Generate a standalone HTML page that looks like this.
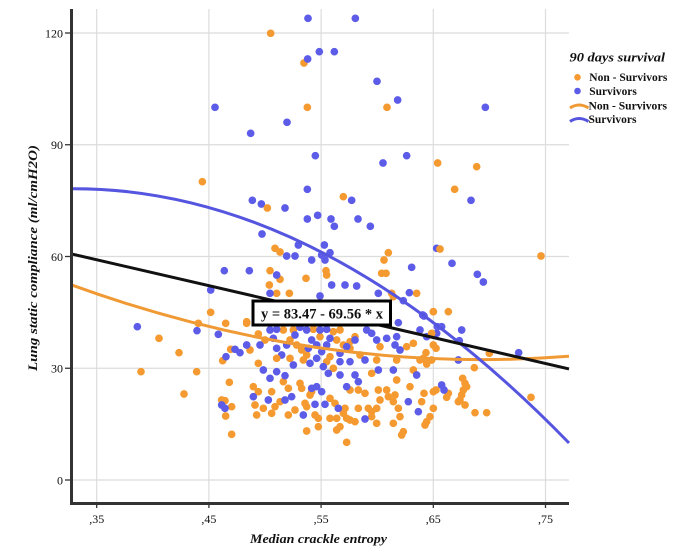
<!DOCTYPE html>
<html>
<head>
<meta charset="utf-8">
<style>
html,body{margin:0;padding:0;background:#fff;}
svg{display:block;}
.o{fill:#F59A30;}
.b{fill:#5C5CE8;}
text{font-family:"Liberation Serif",serif;fill:#111;}
</style>
</head>
<body>
<svg width="689" height="555" viewBox="0 0 689 555" xmlns="http://www.w3.org/2000/svg">
<rect width="689" height="555" fill="#fff"/>
<!-- grid -->
<g stroke="#dcdcdc" stroke-width="1.2">
<line x1="96.7" y1="9" x2="96.7" y2="503"/>
<line x1="208.9" y1="9" x2="208.9" y2="503"/>
<line x1="321.1" y1="9" x2="321.1" y2="503"/>
<line x1="433.3" y1="9" x2="433.3" y2="503"/>
<line x1="545.5" y1="9" x2="545.5" y2="503"/>
<line x1="72" y1="33" x2="569" y2="33"/>
<line x1="72" y1="144.75" x2="569" y2="144.75"/>
<line x1="72" y1="256.5" x2="569" y2="256.5"/>
<line x1="72" y1="368.25" x2="569" y2="368.25"/>
<line x1="72" y1="480" x2="569" y2="480"/>
</g>

<!-- zoom 8 region (top) -->
<g transform="translate(180,9) scale(0.33333)">
<g class="o">
<circle cx="272" cy="73" r="11.5"/><circle cx="372" cy="162" r="11.5"/><circle cx="382" cy="295" r="11.5"/><circle cx="621" cy="295" r="11.5"/><circle cx="773" cy="462" r="11.5"/><circle cx="890" cy="473" r="11.5"/><circle cx="67" cy="518" r="11.5"/><circle cx="824" cy="541" r="11.5"/><circle cx="490" cy="563" r="11.5"/>
</g>
<g class="b">
<circle cx="384" cy="28" r="11.5"/><circle cx="526" cy="28" r="11.5"/><circle cx="418" cy="128" r="11.5"/><circle cx="463" cy="128" r="11.5"/><circle cx="383" cy="150" r="11.5"/><circle cx="591" cy="217" r="11.5"/><circle cx="653" cy="273" r="11.5"/><circle cx="105" cy="295" r="11.5"/><circle cx="916" cy="295" r="11.5"/><circle cx="321" cy="340" r="11.5"/><circle cx="212" cy="373" r="11.5"/><circle cx="406" cy="440" r="11.5"/><circle cx="609" cy="462" r="11.5"/><circle cx="680" cy="440" r="11.5"/><circle cx="382" cy="541" r="11.5"/><circle cx="217" cy="574" r="11.5"/><circle cx="244" cy="585" r="11.5"/><circle cx="315" cy="597" r="11.5"/><circle cx="515" cy="574" r="11.5"/><circle cx="873" cy="574" r="11.5"/><circle cx="382" cy="630" r="11.5"/><circle cx="413" cy="619" r="11.5"/><circle cx="453" cy="630" r="11.5"/><circle cx="463" cy="652" r="11.5"/><circle cx="534" cy="630" r="11.5"/><circle cx="571" cy="652" r="11.5"/><circle cx="246" cy="675" r="11.5"/>
</g>
<circle class="o" cx="262" cy="597" r="11.5"/>
</g>

<!-- left middle -->
<g class="b">
<circle cx="224.3" cy="270.7" r="3.83"/><circle cx="210.7" cy="290" r="3.83"/>
</g>

<!-- zoom 9 region -->
<g transform="translate(240,230) scale(0.33333)">
<g class="o">
<circle cx="105" cy="55" r="11.5"/><circle cx="120" cy="66" r="11.5"/><circle cx="445" cy="68" r="11.5"/><circle cx="432" cy="90" r="11.5"/>
<circle cx="90" cy="122" r="11.5"/><circle cx="120" cy="148" r="11.5"/><circle cx="198" cy="145" r="11.5"/><circle cx="258" cy="122" r="11.5"/><circle cx="260" cy="135" r="11.5"/><circle cx="425" cy="130" r="11.5"/><circle cx="438" cy="130" r="11.5"/><circle cx="88" cy="165" r="11.5"/>
<circle cx="110" cy="190" r="11.5"/><circle cx="148" cy="190" r="11.5"/><circle cx="455" cy="190" r="11.5"/><circle cx="460" cy="200" r="11.5"/><circle cx="530" cy="190" r="11.5"/><circle cx="580" cy="245" r="11.5"/><circle cx="20" cy="275" r="11.5"/>
<circle cx="55" cy="312" r="11.5"/><circle cx="130" cy="300" r="11.5"/><circle cx="160" cy="300" r="11.5"/><circle cx="150" cy="330" r="11.5"/><circle cx="170" cy="345" r="11.5"/><circle cx="185" cy="360" r="11.5"/><circle cx="200" cy="375" r="11.5"/><circle cx="220" cy="298" r="11.5"/><circle cx="240" cy="320" r="11.5"/><circle cx="280" cy="305" r="11.5"/><circle cx="300" cy="300" r="11.5"/><circle cx="290" cy="330" r="11.5"/><circle cx="310" cy="345" r="11.5"/><circle cx="330" cy="355" r="11.5"/><circle cx="345" cy="320" r="11.5"/><circle cx="330" cy="335" r="11.5"/><circle cx="420" cy="350" r="11.5"/><circle cx="500" cy="350" r="11.5"/><circle cx="520" cy="340" r="11.5"/><circle cx="75" cy="330" r="11.5"/><circle cx="30" cy="360" r="11.5"/><circle cx="270" cy="380" r="11.5"/><circle cx="360" cy="375" r="11.5"/><circle cx="150" cy="385" r="11.5"/>
</g>
<g class="b">
<circle cx="175" cy="45" r="11.5"/><circle cx="253" cy="45" r="11.5"/><circle cx="140" cy="78" r="11.5"/><circle cx="165" cy="78" r="11.5"/><circle cx="215" cy="90" r="11.5"/><circle cx="245" cy="75" r="11.5"/><circle cx="255" cy="90" r="11.5"/><circle cx="270" cy="68" r="11.5"/><circle cx="515" cy="112" r="11.5"/><circle cx="590" cy="55" r="11.5"/>
<circle cx="28" cy="122" r="11.5"/><circle cx="110" cy="135" r="11.5"/><circle cx="275" cy="165" r="11.5"/><circle cx="315" cy="165" r="11.5"/><circle cx="350" cy="168" r="11.5"/><circle cx="90" cy="190" r="11.5"/><circle cx="240" cy="198" r="11.5"/><circle cx="415" cy="190" r="11.5"/><circle cx="508" cy="188" r="11.5"/><circle cx="490" cy="212" r="11.5"/><circle cx="548" cy="255" r="11.5"/><circle cx="475" cy="278" r="11.5"/>
<circle cx="90" cy="300" r="11.5"/><circle cx="110" cy="298" r="11.5"/><circle cx="100" cy="325" r="11.5"/><circle cx="110" cy="355" r="11.5"/><circle cx="125" cy="375" r="11.5"/><circle cx="140" cy="345" r="11.5"/><circle cx="180" cy="292" r="11.5"/><circle cx="200" cy="300" r="11.5"/><circle cx="215" cy="330" r="11.5"/><circle cx="205" cy="355" r="11.5"/><circle cx="230" cy="345" r="11.5"/><circle cx="245" cy="365" r="11.5"/><circle cx="260" cy="345" r="11.5"/><circle cx="240" cy="300" r="11.5"/><circle cx="260" cy="298" r="11.5"/><circle cx="270" cy="325" r="11.5"/><circle cx="320" cy="350" r="11.5"/><circle cx="345" cy="330" r="11.5"/><circle cx="380" cy="300" r="11.5"/><circle cx="395" cy="310" r="11.5"/><circle cx="410" cy="330" r="11.5"/><circle cx="440" cy="325" r="11.5"/><circle cx="470" cy="320" r="11.5"/><circle cx="465" cy="345" r="11.5"/><circle cx="480" cy="360" r="11.5"/><circle cx="540" cy="300" r="11.5"/><circle cx="560" cy="320" r="11.5"/><circle cx="590" cy="310" r="11.5"/><circle cx="165" cy="315" r="11.5"/><circle cx="300" cy="370" r="11.5"/><circle cx="60" cy="345" r="11.5"/>
</g>
</g>

<!-- zoom 10 region -->
<g transform="translate(240,355) scale(0.33333)">
<g class="o">
<circle cx="55" cy="25" r="11.5"/><circle cx="40" cy="95" r="11.5"/><circle cx="55" cy="110" r="11.5"/><circle cx="95" cy="110" r="11.5"/><circle cx="45" cy="150" r="11.5"/><circle cx="50" cy="180" r="11.5"/><circle cx="70" cy="160" r="11.5"/><circle cx="95" cy="175" r="11.5"/><circle cx="105" cy="155" r="11.5"/><circle cx="120" cy="140" r="11.5"/><circle cx="130" cy="80" r="11.5"/><circle cx="145" cy="100" r="11.5"/><circle cx="180" cy="85" r="11.5"/><circle cx="185" cy="100" r="11.5"/><circle cx="165" cy="165" r="11.5"/><circle cx="195" cy="145" r="11.5"/><circle cx="200" cy="155" r="11.5"/><circle cx="145" cy="180" r="11.5"/><circle cx="210" cy="120" r="11.5"/><circle cx="215" cy="110" r="11.5"/><circle cx="225" cy="180" r="11.5"/><circle cx="235" cy="190" r="11.5"/><circle cx="270" cy="130" r="11.5"/><circle cx="285" cy="145" r="11.5"/><circle cx="270" cy="190" r="11.5"/><circle cx="290" cy="190" r="11.5"/><circle cx="310" cy="175" r="11.5"/><circle cx="320" cy="190" r="11.5"/><circle cx="300" cy="215" r="11.5"/><circle cx="290" cy="225" r="11.5"/><circle cx="330" cy="195" r="11.5"/><circle cx="345" cy="200" r="11.5"/><circle cx="315" cy="160" r="11.5"/><circle cx="355" cy="160" r="11.5"/><circle cx="355" cy="105" r="11.5"/><circle cx="330" cy="105" r="11.5"/><circle cx="375" cy="115" r="11.5"/><circle cx="385" cy="160" r="11.5"/><circle cx="395" cy="170" r="11.5"/><circle cx="395" cy="185" r="11.5"/><circle cx="410" cy="160" r="11.5"/><circle cx="415" cy="105" r="11.5"/><circle cx="420" cy="135" r="11.5"/><circle cx="440" cy="105" r="11.5"/><circle cx="445" cy="125" r="11.5"/><circle cx="465" cy="120" r="11.5"/><circle cx="470" cy="75" r="11.5"/><circle cx="460" cy="140" r="11.5"/><circle cx="480" cy="185" r="11.5"/><circle cx="475" cy="160" r="11.5"/><circle cx="410" cy="205" r="11.5"/><circle cx="460" cy="205" r="11.5"/><circle cx="510" cy="95" r="11.5"/><circle cx="520" cy="45" r="11.5"/><circle cx="545" cy="140" r="11.5"/><circle cx="580" cy="110" r="11.5"/><circle cx="580" cy="160" r="11.5"/><circle cx="570" cy="185" r="11.5"/><circle cx="560" cy="200" r="11.5"/><circle cx="555" cy="210" r="11.5"/><circle cx="490" cy="230" r="11.5"/><circle cx="485" cy="240" r="11.5"/><circle cx="320" cy="262" r="11.5"/><circle cx="235" cy="215" r="11.5"/><circle cx="200" cy="228" r="11.5"/><circle cx="260" cy="20" r="11.5"/><circle cx="190" cy="15" r="11.5"/><circle cx="280" cy="40" r="11.5"/><circle cx="395" cy="55" r="11.5"/><circle cx="470" cy="15" r="11.5"/><circle cx="110" cy="10" r="11.5"/><circle cx="410" cy="15" r="11.5"/><circle cx="540" cy="15" r="11.5"/><circle cx="560" cy="20" r="11.5"/>
</g>
<g class="b">
<circle cx="70" cy="45" r="11.5"/><circle cx="90" cy="70" r="11.5"/><circle cx="110" cy="50" r="11.5"/><circle cx="135" cy="62" r="11.5"/><circle cx="160" cy="30" r="11.5"/><circle cx="210" cy="25" r="11.5"/><circle cx="230" cy="10" r="11.5"/><circle cx="250" cy="35" r="11.5"/><circle cx="265" cy="55" r="11.5"/><circle cx="300" cy="60" r="11.5"/><circle cx="300" cy="20" r="11.5"/><circle cx="330" cy="20" r="11.5"/><circle cx="345" cy="60" r="11.5"/><circle cx="355" cy="80" r="11.5"/><circle cx="375" cy="15" r="11.5"/><circle cx="415" cy="45" r="11.5"/><circle cx="460" cy="45" r="11.5"/><circle cx="530" cy="60" r="11.5"/><circle cx="215" cy="100" r="11.5"/><circle cx="230" cy="95" r="11.5"/><circle cx="245" cy="110" r="11.5"/><circle cx="40" cy="125" r="11.5"/><circle cx="85" cy="135" r="11.5"/><circle cx="135" cy="135" r="11.5"/><circle cx="155" cy="125" r="11.5"/><circle cx="225" cy="148" r="11.5"/><circle cx="255" cy="148" r="11.5"/><circle cx="295" cy="160" r="11.5"/><circle cx="190" cy="180" r="11.5"/><circle cx="375" cy="192" r="11.5"/><circle cx="320" cy="95" r="11.5"/><circle cx="505" cy="140" r="11.5"/><circle cx="535" cy="170" r="11.5"/>
</g>
</g>

<!-- zoom 11 region (left bottom) -->
<g transform="translate(70,300) scale(0.33333)">
<g class="o">
<circle cx="267" cy="115" r="11.5"/><circle cx="327" cy="158" r="11.5"/><circle cx="213" cy="215" r="11.5"/><circle cx="380" cy="215" r="11.5"/><circle cx="342" cy="282" r="11.5"/><circle cx="422" cy="37" r="11.5"/><circle cx="385" cy="70" r="11.5"/><circle cx="467" cy="70" r="11.5"/><circle cx="530" cy="70" r="11.5"/><circle cx="482" cy="148" r="11.5"/><circle cx="458" cy="182" r="11.5"/><circle cx="478" cy="247" r="11.5"/><circle cx="455" cy="300" r="11.5"/><circle cx="465" cy="302" r="11.5"/><circle cx="485" cy="320" r="11.5"/><circle cx="467" cy="348" r="11.5"/><circle cx="485" cy="403" r="11.5"/>
</g>
<g class="b">
<circle cx="202" cy="80" r="11.5"/><circle cx="381" cy="92" r="11.5"/><circle cx="445" cy="103" r="11.5"/><circle cx="495" cy="148" r="11.5"/><circle cx="510" cy="158" r="11.5"/><circle cx="530" cy="135" r="11.5"/><circle cx="468" cy="170" r="11.5"/><circle cx="455" cy="315" r="11.5"/><circle cx="465" cy="325" r="11.5"/>
</g>
</g>

<!-- zoom 12 region (right) -->
<g transform="translate(420,220) scale(0.33333)">
<g class="o">
<circle cx="60" cy="87" r="11.5"/><circle cx="363" cy="108" r="11.5"/><circle cx="85" cy="275" r="11.5"/><circle cx="40" cy="275" r="11.5"/><circle cx="208" cy="400" r="11.5"/><circle cx="163" cy="443" r="11.5"/><circle cx="85" cy="520" r="11.5"/><circle cx="80" cy="532" r="11.5"/><circle cx="128" cy="475" r="11.5"/><circle cx="135" cy="490" r="11.5"/><circle cx="140" cy="500" r="11.5"/><circle cx="130" cy="510" r="11.5"/><circle cx="125" cy="525" r="11.5"/><circle cx="120" cy="540" r="11.5"/><circle cx="115" cy="545" r="11.5"/><circle cx="135" cy="555" r="11.5"/><circle cx="333" cy="532" r="11.5"/><circle cx="165" cy="578" r="11.5"/><circle cx="200" cy="578" r="11.5"/>
<circle cx="35" cy="340" r="11.5"/><circle cx="40" cy="375" r="11.5"/><circle cx="48" cy="385" r="11.5"/><circle cx="18" cy="398" r="11.5"/><circle cx="10" cy="415" r="11.5"/><circle cx="20" cy="432" r="11.5"/><circle cx="35" cy="420" r="11.5"/><circle cx="48" cy="510" r="11.5"/><circle cx="12" cy="520" r="11.5"/>
</g>
<g class="b">
<circle cx="96" cy="130" r="11.5"/><circle cx="172" cy="163" r="11.5"/><circle cx="190" cy="186" r="11.5"/><circle cx="65" cy="320" r="11.5"/><circle cx="52" cy="320" r="11.5"/><circle cx="12" cy="288" r="11.5"/><circle cx="125" cy="330" r="11.5"/><circle cx="118" cy="362" r="11.5"/><circle cx="296" cy="398" r="11.5"/><circle cx="115" cy="420" r="11.5"/><circle cx="65" cy="495" r="11.5"/><circle cx="72" cy="510" r="11.5"/>
</g>
</g>

<!-- fit lines -->
<path d="M70.9,284.7 Q320,375.4 569,356.3" fill="none" stroke="#F09A35" stroke-width="3"/>
<path d="M70.9,188.7 Q320,187 569,443" fill="none" stroke="#5555E0" stroke-width="3"/>
<line x1="70.9" y1="253.8" x2="569" y2="368.9" stroke="#111" stroke-width="3"/>

<!-- equation box -->
<rect x="253" y="301" width="137.5" height="24" fill="#fff" stroke="#000" stroke-width="3"/>
<text x="261" y="318.5" font-size="15" font-weight="bold" textLength="122" lengthAdjust="spacingAndGlyphs">y = 83.47 - 69.56 * x</text>

<!-- axes -->
<line x1="71.5" y1="9" x2="71.5" y2="505" stroke="#333" stroke-width="3"/>
<line x1="70" y1="503.5" x2="569" y2="503.5" stroke="#333" stroke-width="3"/>
<g stroke="#333" stroke-width="1.3">
<line x1="65" y1="33" x2="71" y2="33"/>
<line x1="65" y1="144.75" x2="71" y2="144.75"/>
<line x1="65" y1="256.5" x2="71" y2="256.5"/>
<line x1="65" y1="368.25" x2="71" y2="368.25"/>
<line x1="65" y1="480" x2="71" y2="480"/>
<line x1="96.7" y1="504" x2="96.7" y2="508"/>
<line x1="208.9" y1="504" x2="208.9" y2="508"/>
<line x1="321.1" y1="504" x2="321.1" y2="508"/>
<line x1="433.3" y1="504" x2="433.3" y2="508"/>
<line x1="545.5" y1="504" x2="545.5" y2="508"/>
</g>

<!-- tick labels -->
<g font-size="12" text-anchor="end">
<text x="63" y="37.5">120</text>
<text x="63" y="149">90</text>
<text x="63" y="261">60</text>
<text x="63" y="372.5">30</text>
<text x="63" y="484.5">0</text>
</g>
<g font-size="12" text-anchor="middle">
<text x="96.7" y="523">,35</text>
<text x="208.9" y="523">,45</text>
<text x="321.1" y="523">,55</text>
<text x="433.3" y="523">,65</text>
<text x="545.5" y="523">,75</text>
</g>

<!-- axis titles -->
<text x="250" y="543" font-size="13" font-weight="bold" font-style="italic" textLength="137" lengthAdjust="spacingAndGlyphs">Median crackle entropy</text>
<text transform="translate(37,371) rotate(-90)" x="0" y="0" font-size="13" font-weight="bold" font-style="italic" textLength="226" lengthAdjust="spacingAndGlyphs">Lung static compliance (ml/cmH2O)</text>

<!-- legend -->
<text x="569.5" y="61.5" font-size="12.5" font-weight="bold" font-style="italic" textLength="95.5" lengthAdjust="spacingAndGlyphs">90 days survival</text>
<circle cx="577.5" cy="77.3" r="3.3" fill="#F59A30"/>
<circle cx="577.5" cy="91" r="3.3" fill="#5C5CE8"/>
<path d="M570,108 Q579,102 588.5,108" fill="none" stroke="#F09A35" stroke-width="3"/>
<path d="M570,121.5 Q579,115.5 588.5,121.5" fill="none" stroke="#5555E0" stroke-width="3"/>
<g font-size="11.5" font-weight="bold">
<text x="589.3" y="81" textLength="78" lengthAdjust="spacingAndGlyphs">Non - Survivors</text>
<text x="589.3" y="95" textLength="47.5" lengthAdjust="spacingAndGlyphs">Survivors</text>
<text x="588.5" y="109.5" textLength="78.5" lengthAdjust="spacingAndGlyphs">Non - Survivors</text>
<text x="588.5" y="123" textLength="48" lengthAdjust="spacingAndGlyphs">Survivors</text>
</g>
</svg>
</body>
</html>
